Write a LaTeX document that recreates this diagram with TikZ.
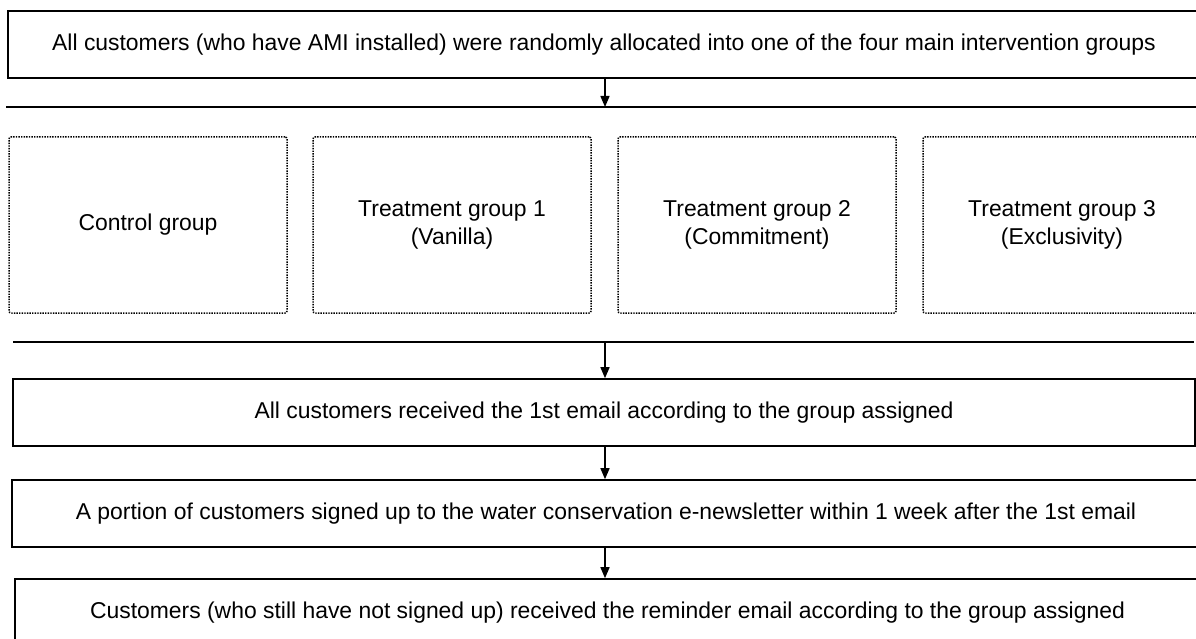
\documentclass[tikz,border=0pt]{standalone}
\usepackage{fontspec}
\setmainfont{Liberation Sans}
\usetikzlibrary{arrows.meta}
\begin{document}
\begin{tikzpicture}[x=1pt,y=-1pt,
  box/.style={draw=black, line width=1.6pt, inner sep=0pt, align=center,
    font=\fontsize{22.9}{28}\selectfont},
  grp/.style={draw=black, line width=1.5pt, dash pattern=on 1.4pt off 1.2pt,
    rounded corners=2pt, inner sep=0pt,
    align=center, minimum width=278pt, minimum height=176pt,
    font=\fontsize{22.9}{28}\selectfont},
  sep/.style={line width=1.6pt},
  arr/.style={line width=1.4pt, -{Triangle[width=9pt,length=11pt]}}]
\clip (0,0) rectangle (1196,639);
\fill[white] (0,0) rectangle (1196,639);
% top box
\node[box, minimum width=1192pt, minimum height=67pt] (top) at (604,44.5)
  {All customers (who have AMI installed) were randomly allocated into one of the four main intervention groups};
% separator lines
\coordinate (l1a) at (6,107);
\coordinate (l1b) at (1200,107);
\coordinate (l1) at (605,107);
\draw[sep] (l1a) -- (l1b);
% groups
\node[grp] (g0) at (148,225) {Control group};
\node[grp] (g1) at (452,225) {Treatment group 1\\(Vanilla)};
\node[grp] (g2) at (757,225) {Treatment group 2\\(Commitment)};
\node[grp] (g3) at (1062,225) {Treatment group 3\\(Exclusivity)};
\coordinate (l2a) at (13,342);
\coordinate (l2b) at (1194,342);
\coordinate (l2) at (605,342);
\draw[sep] (l2a) -- (l2b);
% lower boxes
\node[box, minimum width=1182pt, minimum height=67pt] (b3) at (604,412.5)
  {All customers received the 1st email according to the group assigned};
\node[box, minimum width=1188pt, minimum height=67pt] (b4) at (606,513.5)
  {A portion of customers signed up to the water conservation e-newsletter within 1 week after the 1st email};
\node[box, minimum width=1185pt, minimum height=67pt] (b5) at (607.5,612.5)
  {Customers (who still have not signed up) received the reminder email according to the group assigned};
% arrows
\draw[arr] (top.south -| l1) -- (l1);
\draw[arr] (l2) -- (b3.north -| l2);
\draw[arr] (b3.south -| l2) -- (b4.north -| l2);
\draw[arr] (b4.south -| l2) -- (b5.north -| l2);
\end{tikzpicture}
\end{document}
